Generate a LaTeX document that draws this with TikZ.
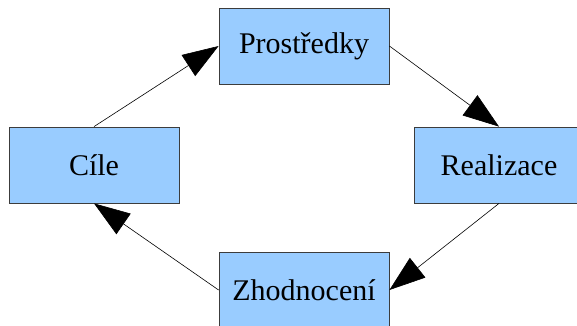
\documentclass[tikz,border=0pt]{standalone}
\usepackage{fontspec}
\setmainfont{Liberation Serif}
\usetikzlibrary{positioning, arrows.meta}

\definecolor{boxblue}{HTML}{99CCFF}
\definecolor{boxline}{HTML}{3C3C3C}

\begin{document}
\begin{tikzpicture}[x=1pt,y=1pt,node distance=100pt,on grid,
    faze/.style={draw=boxline, fill=boxblue, line width=0.8pt,
      minimum width=170pt, minimum height=76pt, inner sep=0pt,
      font=\fontsize{30}{36}\selectfont}]
  \tikzset{->, >={Triangle[length=36pt,width=25pt]}}

  \useasboundingbox (0,0) rectangle (577,-325);
  \clip (0,0) rectangle (577,-325);

  \node[faze]  (cile)  at (94,-165)                          {Cíle};
  \node[faze]  (prostredky) [above right = 119pt and 210pt of cile] {Prostředky};
  \node[faze]  (realizace)  [below right = 119pt and 195pt of prostredky] {Realizace};
  \node[faze]  (zhodnoceni) [below left  = 125pt and 195pt of realizace] {Zhodnocení};
  \path[line width=0.6pt]
    (cile.north)      edge (prostredky.west)
    (prostredky.east) edge (realizace.north)
    (realizace.south) edge (zhodnoceni.east)
    (zhodnoceni.west) edge (cile.south);
\end{tikzpicture}
\end{document}
